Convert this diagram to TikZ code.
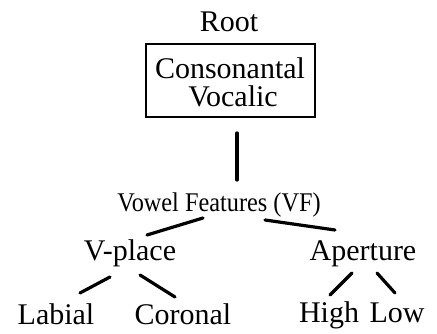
\documentclass[tikz,border=0pt]{standalone}
\usepackage{fontspec}
\setmainfont{Liberation Serif}
\usetikzlibrary{calc}
\begin{document}
\begin{tikzpicture}[x=1pt,y=1pt,
  lbl/.style={font=\fontsize{30}{34}\selectfont, inner sep=0pt, anchor=base},
  edge/.style={line width=3.2pt, line cap=round},
  framebox/.style={draw, line width=2pt, minimum width=169pt, minimum height=73pt, inner sep=0pt}]
\useasboundingbox (0,0) rectangle (437,334);
\node[lbl] (root) at (229,302) {Root};
\node[framebox] (box) at (230.5,253.5) {};
\node[lbl] (cons) at (230,255) {Consonantal};
\node[lbl] (voc) at (233,227) {Vocalic};
\node[lbl, font=\fontsize{27}{30}\selectfont] (vf) at (219,122) {\scalebox{0.9}[1]{Vowel Features (VF)}};
\node[lbl] (vplace) at (130,73) {V-place};
\node[lbl] (aperture) at (363,73) {Aperture};
\node[lbl] (labial) at (56,9) {Labial};
\node[lbl] (coronal) at (183,9) {Coronal};
\node[lbl] (high) at (329,11) {High};
\node[lbl] (low) at (397,11) {Low};
\draw[edge] ($(box.south)+(6.5,-15)$) -- ($(vf.base)+(18,32)$);
\draw[edge] ($(vf.base)+(-16,-6)$) -- ($(vplace.base)+(17,26)$);
\draw[edge] ($(vf.base)+(46,-8)$) -- ($(aperture.base)+(-28,31)$);
\draw[edge] ($(vplace.base)+(-20,-16)$) -- ($(labial.base)+(24,32)$);
\draw[edge] ($(vplace.base)+(10,-14)$) -- ($(coronal.base)+(-8,28)$);
\draw[edge] ($(aperture.base)+(-11,-12)$) -- ($(high.base)+(1,28)$);
\draw[edge] ($(aperture.base)+(14,-12)$) -- ($(low.base)+(-2,30)$);
\end{tikzpicture}
\end{document}
